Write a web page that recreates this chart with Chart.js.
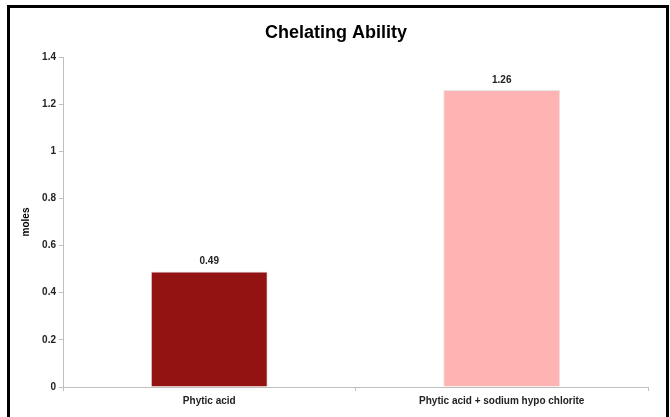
<!DOCTYPE html>
<html>
<head>
<meta charset="utf-8">
<script src="https://cdn.jsdelivr.net/npm/chart.js@4"></script>
<style>
    html, body { margin: 0; padding: 0; background: #fff; }
    #wrap { position: relative; width: 670px; height: 417px; }
    #frame {
        position: absolute; left: 7px; top: 5px; width: 656px; height: 420px;
        border: 3px solid #000; border-bottom: none; pointer-events: none;
    }
</style>
</head>
<body>
<div id="wrap">
    <canvas id="chelatingChart" width="670" height="417"></canvas>
    <div id="frame"></div>
</div>
<script>
const chartTitle = 'Chelating Ability';
const categories = ['Phytic acid', 'Phytic acid + sodium hypo chlorite'];
const moles = [0.49, 1.26];
const barColors = ['#931212', '#FFB3B3'];
const yTicks = [0, 0.2, 0.4, 0.6, 0.8, 1, 1.2, 1.4];

document.addEventListener('DOMContentLoaded', function() {
    const axisColor = '#bfbfbf';
    const fontFamily = 'Liberation Sans, Arial, sans-serif';

    // value over each bar, plus the title centred on the whole canvas
    const labelsPlugin = {
        id: 'labelsPlugin',
        afterDatasetsDraw(chart) {
            const ctx = chart.ctx;
            const meta = chart.getDatasetMeta(0);
            ctx.save();
            ctx.font = 'bold 10px ' + fontFamily;
            ctx.fillStyle = '#222';
            ctx.textAlign = 'center';
            ctx.textBaseline = 'bottom';
            meta.data.forEach(function(bar, i) {
                ctx.fillText(String(moles[i]), bar.x, bar.y - 5);
            });

            ctx.font = 'bold 18px ' + fontFamily;
            ctx.fillStyle = '#000';
            ctx.textBaseline = 'middle';
            ctx.fillText(chartTitle, chart.width / 2 + 1, 33);
            ctx.restore();
        }
    };

    new Chart(document.getElementById('chelatingChart').getContext('2d'), {
        type: 'bar',
        data: {
            labels: categories,
            datasets: [{
                data: moles,
                backgroundColor: barColors,
                borderColor: '#e6e6e6',
                borderWidth: 1,
                barPercentage: 0.4,
                categoryPercentage: 1
            }]
        },
        options: {
            responsive: false,
            animation: false,
            layout: { padding: { left: 0, right: 22, top: 57, bottom: 0 } },
            plugins: {
                legend: { display: false },
                tooltip: { enabled: false },
                title: { display: false }
            },
            scales: {
                x: {
                    afterFit: function(scale) { scale.height = 30; },
                    border: { color: axisColor, width: 1 },
                    grid: { display: true, offset: true, drawOnChartArea: false, tickLength: 4, color: axisColor },
                    ticks: {
                        color: '#222',
                        padding: 4,
                        font: { family: fontFamily, size: 10, weight: 'bold' }
                    }
                },
                y: {
                    min: 0,
                    max: 1.4,
                    afterFit: function(scale) { scale.width = 63; },
                    afterBuildTicks: function(scale) {
                        scale.ticks = yTicks.map(function(v) { return { value: v }; });
                    },
                    border: { color: axisColor, width: 1 },
                    grid: { display: true, drawOnChartArea: false, tickLength: 4, color: axisColor },
                    ticks: {
                        color: '#222',
                        padding: 3,
                        font: { family: fontFamily, size: 10, weight: 'bold' },
                        callback: function(v) { return String(Math.round(v * 10) / 10); }
                    },
                    title: {
                        display: true,
                        text: 'moles',
                        color: '#000',
                        font: { family: fontFamily, size: 10, weight: 'bold' },
                        padding: { top: 20, bottom: 0 }
                    }
                }
            }
        },
        plugins: [labelsPlugin]
    });
});
</script>
</body>
</html>
